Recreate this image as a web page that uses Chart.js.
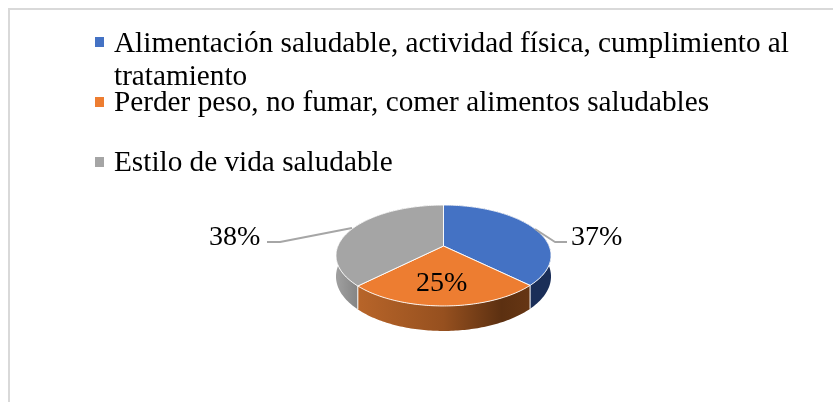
<!DOCTYPE html>
<html><head><meta charset="utf-8">
<style>html,body{margin:0;padding:0;background:#fff}canvas{display:block}</style>
<script src="https://cdn.jsdelivr.net/npm/chart.js@4"></script>
</head><body><canvas id="c" width="833" height="402"></canvas>
<script>
const categories = [
  "Alimentación saludable, actividad física, cumplimiento al tratamiento",
  "Perder peso, no fumar, comer alimentos saludables",
  "Estilo de vida saludable"
];
const legendLines = [
  ["Alimentación saludable, actividad física, cumplimiento al", "tratamiento"],
  ["Perder peso, no fumar, comer alimentos saludables"],
  ["Estilo de vida saludable"]
];
const percentages = [37.4, 25, 37.6];
const topColors = ["#4472C4", "#ED7D31", "#A5A5A5"];
const FONT = '"Liberation Serif", "Times New Roman", serif';
const TILT = 0.461, PERSP = 0.188, DEPTH = 20.3;

function project(arc, a, drop) {
  const u = Math.cos(a), v = Math.sin(a), w = 1 - PERSP * v;
  return [arc.x + arc.outerRadius * u / w,
          arc.y + (arc.outerRadius * TILT * v + drop) / w];
}
function rim(arc, from, to, drop) {
  const pts = [], n = 90;
  for (let i = 0; i <= n; i++) pts.push(project(arc, from + (to - from) * i / n, drop));
  return pts;
}
function trace(ctx, pts) {
  ctx.beginPath();
  pts.forEach((p, i) => i ? ctx.lineTo(p[0], p[1]) : ctx.moveTo(p[0], p[1]));
  ctx.closePath();
}
function sideFill(ctx, i) {
  const g = ctx.createLinearGradient(336, 0, 551, 0);
  if (i === 0) { g.addColorStop(0, "#1a2e58"); g.addColorStop(1, "#1a2e58"); }
  if (i === 1) {
    g.addColorStop(0, "#c06a2c"); g.addColorStop(0.5, "#96501f");
    g.addColorStop(0.77, "#5c3011"); g.addColorStop(1, "#6e3a15");
  }
  if (i === 2) { g.addColorStop(0, "#a0a0a0"); g.addColorStop(0.1, "#858585"); g.addColorStop(1, "#858585"); }
  return g;
}
const pie3d = {
  id: "pie3d",
  beforeDraw(chart) {
    const ctx = chart.ctx;
    ctx.save();
    ctx.fillStyle = "#d9d9d9";
    ctx.fillRect(8, 8, 825, 2);
    ctx.fillRect(8, 8, 2, 394);
    ctx.restore();
  },
  beforeDatasetDraw(chart) {
    const ctx = chart.ctx;
    const arcs = chart.getDatasetMeta(0).data;
    ctx.save();
    arcs.forEach((arc, i) => {
      const top = rim(arc, arc.startAngle, arc.endAngle, 0);
      const bot = rim(arc, arc.startAngle, arc.endAngle, DEPTH).reverse();
      trace(ctx, top.concat(bot));
      ctx.fillStyle = sideFill(ctx, i);
      ctx.fill();
    });
    ctx.strokeStyle = "#ffffff";
    ctx.lineWidth = 1;
    arcs.forEach(arc => {
      const a = arc.startAngle;
      if (Math.sin(a) > 0) {
        const p = project(arc, a, 0), q = project(arc, a, DEPTH);
        ctx.beginPath(); ctx.moveTo(p[0], p[1]); ctx.lineTo(q[0], q[1]); ctx.stroke();
      }
    });
    arcs.forEach((arc, i) => {
      const pts = rim(arc, arc.startAngle, arc.endAngle, 0);
      pts.push([arc.x, arc.y]);
      trace(ctx, pts);
      ctx.fillStyle = topColors[i];
      ctx.fill();
      ctx.strokeStyle = "rgba(255,255,255,0.9)";
      ctx.lineWidth = 1;
      ctx.stroke();
    });
    ctx.restore();
    return false;
  },
  afterDatasetsDraw(chart) {
    const ctx = chart.ctx;
    ctx.save();
    // leader lines
    ctx.strokeStyle = "#a6a6a6"; ctx.lineWidth = 2; ctx.lineJoin = "round";
    [[[535,229],[555,242],[567,242]], [[352,228],[280,242],[267,242]]].forEach(l => {
      ctx.beginPath();
      l.forEach((p, i) => i ? ctx.lineTo(p[0], p[1]) : ctx.moveTo(p[0], p[1]));
      ctx.stroke();
    });
    // data labels
    ctx.fillStyle = "#000";
    ctx.textBaseline = "alphabetic"; ctx.textAlign = "left";
    ctx.font = "28px " + FONT;
    const labelPos = [[571, 245], [416, 291], [209, 245]];
    percentages.forEach((p, i) => ctx.fillText(Math.round(p) + "%", labelPos[i][0], labelPos[i][1]));
    // legend
    const rows = [[51.5, 85], [111], [171]];
    const swatchY = [37, 97, 157];
    ctx.font = "29.25px " + FONT;
    legendLines.forEach((lines, i) => {
      ctx.fillStyle = topColors[i];
      ctx.fillRect(95, swatchY[i], 9, 10);
      ctx.fillStyle = "#000";
      lines.forEach((t, j) => ctx.fillText(t, 114, rows[i][j]));
    });
    ctx.restore();
  }
};
new Chart(document.getElementById("c"), {
  type: "pie",
  data: { labels: categories, datasets: [{ data: percentages, backgroundColor: topColors, borderWidth: 0 }] },
  options: {
    responsive: false, animation: false, devicePixelRatio: 1,
    layout: { padding: { left: 337.9, right: 283.9, top: 140.4, bottom: 50.4 } },
    plugins: { legend: { display: false }, tooltip: { enabled: false } }
  },
  plugins: [pie3d]
});
</script></body></html>
